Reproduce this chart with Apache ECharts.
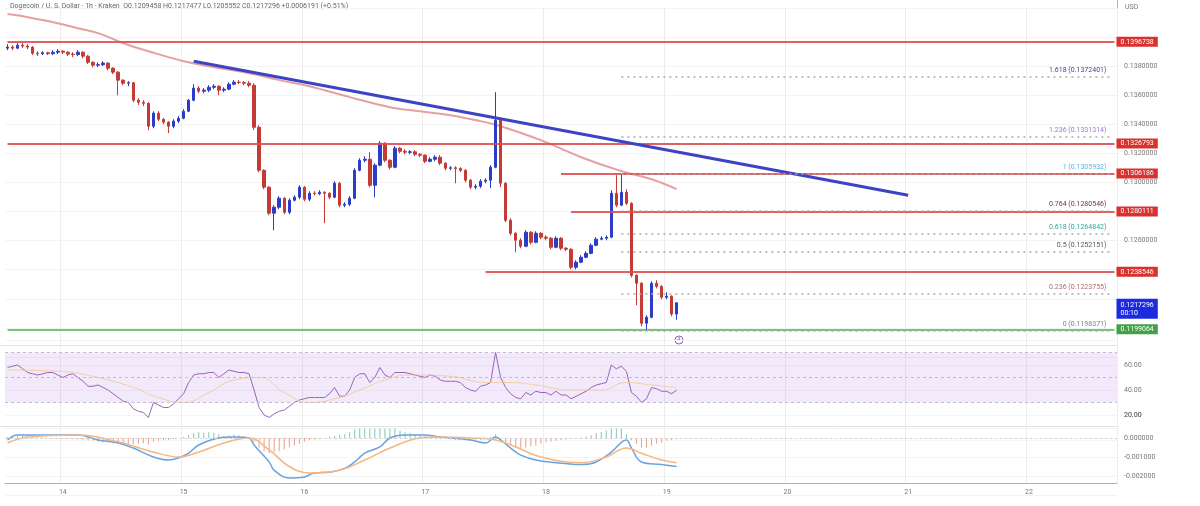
<!DOCTYPE html>
<html>
<head>
<meta charset="utf-8">
<script src="https://cdn.jsdelivr.net/npm/echarts@6/dist/echarts.min.js"></script>
<style>
html,body{margin:0;padding:0;background:#fff}
#chart{width:1200px;height:506px}
</style>
</head>
<body>
<div id="chart"></div>
<script>
// hourly candles, first one is the 13th at 13:00
var days = ['13','14','15','16','17','18','19','20','21','22'];
var firstHour = 13;
var slotCount = 221;

var firstOpen = 0.13924;
var closes = [
  0.13931,0.13924,0.13944,0.13938,0.13931,0.13889,0.13885,0.13892,0.13886,0.13896,
  0.13903,0.13896,0.13883,0.13880,0.13896,0.13869,0.13827,0.13807,0.13810,0.13821,
  0.13786,0.13759,0.13704,0.13683,0.13686,0.13566,0.13552,0.13545,0.13387,0.13477,
  0.13435,0.13415,0.13387,0.13422,0.13442,0.13490,0.13566,0.13649,0.13628,0.13635,
  0.13655,0.13662,0.13635,0.13642,0.13676,0.13690,0.13688,0.13683,0.13669,0.13380,
  0.13084,0.12968,0.12789,0.12830,0.12892,0.12795,0.12878,0.12899,0.12968,0.12885,
  0.12926,0.12923,0.12933,0.12926,0.12899,0.12995,0.12844,0.12850,0.12892,0.13084,
  0.13153,0.13160,0.12981,0.13119,0.13270,0.13153,0.13105,0.13236,0.13215,0.13208,
  0.13211,0.13194,0.13188,0.13146,0.13160,0.13174,0.13133,0.13098,0.13101,0.13096,
  0.13084,0.13016,0.12968,0.12974,0.13009,0.13016,0.13105,0.13428,0.12995,0.12740,
  0.12651,0.12603,0.12562,0.12658,0.12589,0.12651,0.12624,0.12617,0.12555,0.12617,
  0.12548,0.12541,0.12417,0.12452,0.12486,0.12513,0.12568,0.12610,0.12617,0.12624,
  0.12926,0.12844,0.12933,0.12857,0.12362,0.12307,0.12032,0.12073,0.12307,0.12286,
  0.12211,0.12218,0.12095,0.12173
];
var highs = [
  0.13951,0.13944,0.13958,0.13958,0.13951,0.13938,0.13903,0.13903,0.13899,0.13910,
  0.13917,0.13910,0.13903,0.13896,0.13910,0.13903,0.13876,0.13834,0.13827,0.13834,
  0.13827,0.13793,0.13766,0.13710,0.13697,0.13690,0.13580,0.13566,0.13552,0.13490,
  0.13490,0.13442,0.13422,0.13435,0.13456,0.13504,0.13573,0.13676,0.13662,0.13649,
  0.13669,0.13676,0.13669,0.13655,0.13690,0.13704,0.13704,0.13697,0.13697,0.13683,
  0.13394,0.13091,0.12975,0.12844,0.12906,0.12899,0.12892,0.12912,0.12981,0.12975,
  0.12940,0.12940,0.12947,0.12940,0.12933,0.13009,0.13002,0.12864,0.12906,0.13098,
  0.13167,0.13181,0.13208,0.13133,0.13284,0.13277,0.13160,0.13250,0.13243,0.13229,
  0.13222,0.13222,0.13201,0.13194,0.13174,0.13188,0.13188,0.13139,0.13112,0.13112,
  0.13105,0.13091,0.13023,0.12988,0.13023,0.13029,0.13119,0.13621,0.13435,0.13002,
  0.12754,0.12658,0.12617,0.12672,0.12665,0.12665,0.12658,0.12637,0.12624,0.12630,
  0.12624,0.12555,0.12548,0.12465,0.12500,0.12527,0.12582,0.12624,0.12630,0.12637,
  0.12947,0.13050,0.13059,0.12954,0.12864,0.12369,0.12314,0.12087,0.12321,0.12328,
  0.12293,0.12245,0.12224,0.12175
];
var lows = [
  0.13910,0.13910,0.13917,0.13924,0.13917,0.13876,0.13869,0.13876,0.13876,0.13876,
  0.13883,0.13883,0.13869,0.13862,0.13869,0.13855,0.13814,0.13793,0.13793,0.13800,
  0.13772,0.13745,0.13600,0.13669,0.13662,0.13552,0.13532,0.13525,0.13360,0.13373,
  0.13422,0.13401,0.13339,0.13373,0.13408,0.13435,0.13484,0.13559,0.13614,0.13614,
  0.13621,0.13642,0.13600,0.13621,0.13635,0.13669,0.13676,0.13669,0.13655,0.13360,
  0.13071,0.12954,0.12775,0.12672,0.12816,0.12782,0.12782,0.12871,0.12885,0.12871,
  0.12871,0.12912,0.12912,0.12720,0.12885,0.12892,0.12830,0.12830,0.12837,0.12885,
  0.13077,0.13139,0.12968,0.12899,0.13112,0.13139,0.13091,0.13098,0.13201,0.13194,
  0.13194,0.13181,0.13174,0.13133,0.13139,0.13146,0.13119,0.13084,0.13084,0.12995,
  0.13071,0.13002,0.12954,0.12954,0.12961,0.12995,0.12961,0.13098,0.12968,0.12727,
  0.12637,0.12520,0.12548,0.12555,0.12575,0.12582,0.12610,0.12603,0.12541,0.12548,
  0.12534,0.12527,0.12403,0.12403,0.12445,0.12479,0.12507,0.12562,0.12603,0.12603,
  0.12617,0.12830,0.12837,0.12844,0.12348,0.12156,0.12011,0.11984,0.12066,0.12272,
  0.12197,0.12197,0.12080,0.12056
];

// moving average: [candle index, price]
var maLine = [
  [0,0.14158],[4,0.14137],[8,0.14110],[14,0.14061],[18,0.14027],[23,0.13958],
  [28,0.13903],[35,0.13834],[40,0.13800],[48,0.13752],[54,0.13704],[60,0.13662],
  [68,0.13587],[76,0.13518],[82,0.13490],[88,0.13463],[94,0.13422],[98,0.13387],
  [106,0.13291],[114,0.13174],[122,0.13078],[128,0.13022],[133,0.12954]
];

var rsi = [
  58,59,60,57,54,53,52,53,54,54, 52,50,52,53,50,47,43,43,44,42,
  40,37,34,31,30,25,23,22,18,30, 28,26,26,29,33,37,46,52,53,53,
  54,54,50,53,56,55,54,54,53,40, 26,20,18,21,23,24,27,30,32,33,
  34,34,34,34,37,42,35,35,40,50, 53,53,46,50,58,52,50,54,54,54,
  53,52,51,50,52,51,48,47,47,47, 46,42,40,39,43,44,46,70,50,42,
  37,34,33,38,36,39,38,38,36,39, 36,36,33,35,37,39,42,44,45,46,
  60,57,59,55,38,35,30,33,42,41, 39,39,37,40
];
var rsiMa = [
  [0,56],[10,55],[18,50],[25,42],[30,34],[35,30],[40,38],[45,48],[50,50],[55,38],
  [60,30],[65,33],[70,40],[75,48],[80,52],[88,51],[95,46],[100,46],[105,44],[112,40],
  [118,40],[123,46],[128,44],[133,42]
];

var macdLine = [
  [0,-0.0001],[2,0.00016],[6,0.00016],[11,0.00016],[14,0.00016],[18,-0.0001],[22,-0.00026],
  [25,-0.00053],[29,-0.001],[32,-0.00116],[34,-0.00105],[36,-0.0008],[38,-0.00037],[42,0],
  [45,0.00005],[48,0],[49,-0.00037],[52,-0.00126],[53,-0.0017],[56,-0.0021],[59,-0.00205],
  [61,-0.00184],[64,-0.0018],[67,-0.0016],[69,-0.00126],[71,-0.0008],[74,-0.00047],[76,0],
  [79,0.00016],[83,0.00016],[86,0.00005],[92,-0.0001],[95,-0.00026],[97,0.00005],[98,-0.0001],
  [100,-0.00053],[102,-0.0009],[105,-0.00116],[109,-0.0013],[114,-0.0014],[117,-0.00126],
  [120,-0.00074],[123,-0.0001],[124,-0.00053],[126,-0.00126],[130,-0.0014],[133,-0.0015]
];
var signalLine = [
  [0,-0.00026],[4,0.00005],[14,0.00016],[22,-0.0002],[29,-0.00074],[34,-0.001],[38,-0.00074],
  [43,-0.00026],[48,0],[52,-0.00063],[56,-0.0015],[60,-0.00184],[66,-0.0017],[71,-0.00116],
  [76,-0.00053],[82,0],[86,0.00005],[92,0],[97,-0.0001],[101,-0.00047],[106,-0.001],
  [114,-0.0013],[119,-0.001],[123,-0.00053],[126,-0.0008],[130,-0.00116],[133,-0.0013]
];
var macdHist = [
  0.00005,0.00008,0.0001,0.0001,0.00008,0.00005,0.00003,0.00002,0,-0.00002,-0.00003,-0.00004,-0.00005,-0.00006,-0.00008,
  -0.0001,-0.00012,-0.00015,-0.0002,-0.00022,-0.00025,-0.0003,-0.00032,-0.0003,-0.00035,-0.00032,-0.0003,-0.00028,-0.00035,
  -0.0002,-0.00015,-0.00012,-0.0001,-0.00005,0,0.00005,
  0.00015,0.00025,0.0003,0.00028,0.0003,0.00026,0.0002,
  0.00012,0.00015,0.00018,0.00015,0.0001,0.00005,
  -0.0002,-0.0005,-0.0007,-0.0008,-0.00075,-0.0007,-0.0006,-0.0005,-0.0004,
  -0.0003,-0.0002,-0.00012,-0.00008,-0.00005,0,0.00005,0.0001,
  0.00015,0.0002,0.0003,0.00045,0.0006,0.00065,0.0005,0.0005,0.0007,0.0006,0.0005,0.0005,0.0004,0.0003,0.00025,
  0.0002,0.00015,0.0001,0.00005,0,-0.00003,-0.00005,-0.00008,-0.0001,-0.0001,-0.00012,-0.00015,-0.00012,-0.0001,-0.00005,
  0.00005,0.0002,-0.00005,
  -0.00025,-0.0004,-0.0005,-0.00055,-0.0005,-0.00045,-0.0004,-0.0003,
  -0.00022,-0.00018,-0.00015,-0.0001,-0.00008,-0.00005,-0.00002,0.00002,0.00008,0.00015,
  0.00025,0.00032,0.0004,0.0006,0.00055,0.0005,0.0002,
  -0.0001,-0.0003,-0.0005,-0.0005,-0.0004,-0.0003,-0.00025,-0.00015,-0.0001,-0.00005
];

// drawn levels
var levelPrices = [0.1396738, 0.1326793, 0.1306186, 0.1280111, 0.1238546];
var levelStarts = [0, 0, 110, 112, 95];
var supportPrice = 0.1199064;
var lastPrice = 0.1217296;
var countdown = '00:10';
var trendFrom = [37, 0.13834];
var trendTo = [179, 0.12912];
var fibRatios = ['1.618','1.236','1','0.764','0.618','0.5','0.236','0'];
var fibPrices = [0.1372401,0.1331314,0.1305932,0.1280546,0.1264842,0.1252151,0.1223755,0.1198371];
var rsiLowTick = 20;
var headerText = 'Dogecoin / U. S. Dollar · 1h · Kraken  O0.1209458 H0.1217477 L0.1205552 C0.1217296 +0.0006191 (+0.51%)';

var categories = [];
for (var i = 0; i < slotCount; i++) {
  var h = firstHour + i;
  var hh = h % 24;
  var d = days[Math.floor(h / 24)];
  categories.push(hh === 0 ? d : d + ' ' + (hh < 10 ? '0' : '') + hh + ':00');
}
var candles = closes.map(function (c, i) {
  var o = i === 0 ? firstOpen : closes[i - 1];
  return [o, c, lows[i], highs[i]];
});
// price labels that sit under a level box are not shown
var boxedPrices = levelPrices.concat([supportPrice, lastPrice]);

var upColor = '#2b3cc8', downColor = '#c53a35', levelColor = '#dd5050';
var fibColors = ['#3c4a8c','#9a7ad0','#5bb6dc','#7a3434','#2ba89a','#555555','#b46a6a','#808080'];
var font = 'Roboto, sans-serif';
var fibStart = 122, fibEnd = 219;

function dayStart(index) { return (firstHour + index) % 24 === 0; }

var levelLines = levelPrices.map(function (p, i) {
  return [{
    coord: [levelStarts[i], p],
    lineStyle: {color: levelColor, width: 2, type: 'solid', opacity: 0.9},
    label: {show: true, position: 'end', distance: 2, formatter: p.toFixed(7), color: '#fff', opacity: 1,
      backgroundColor: '#d7322e', padding: [2, 4, 1, 4], fontSize: 7, fontFamily: font}
  }, {coord: [slotCount - 1, p]}];
});
levelLines.push([{
  coord: [0, supportPrice],
  lineStyle: {color: '#4caf50', width: 1.5, type: 'solid'},
  label: {show: true, position: 'end', distance: 2, formatter: supportPrice.toFixed(7), color: '#fff',
    backgroundColor: '#43a047', padding: [2, 4, 1, 4], fontSize: 7, fontFamily: font}
}, {coord: [slotCount - 1, supportPrice]}]);
levelLines.push([{
  coord: [closes.length - 1, lastPrice],
  lineStyle: {color: 'rgba(0,0,0,0)', width: 0},
  label: {show: true, position: 'end', distance: 2, formatter: lastPrice.toFixed(7) + '\n' + countdown, color: '#fff', opacity: 1,
    backgroundColor: '#1d2be0', padding: [2, 4, 2, 4], fontSize: 7, lineHeight: 8, fontFamily: font, offset: [0, 6], align: 'left'}
}, {coord: [slotCount - 1, lastPrice]}]);
levelLines.push([{
  coord: trendFrom,
  lineStyle: {color: '#3c44c4', width: 3, type: 'solid'},
  label: {show: false}
}, {coord: trendTo}]);

var fibLines = fibRatios.map(function (r, i) {
  return [{
    coord: [fibStart, fibPrices[i]],
    lineStyle: {color: '#a9a9a9', width: 1.5, type: [2, 4]},
    label: {show: true, position: 'insideEndTop', distance: 3, formatter: r + ' (' + fibPrices[i].toFixed(7) + ')',
      color: fibColors[i], fontSize: 7, fontFamily: font}
  }, {coord: [fibEnd, fibPrices[i]]}];
});

var graphics = [
  {type: 'text', left: 10, top: 3, style: {text: headerText, fill: '#666', fontSize: 7, fontFamily: font}},
  {type: 'text', left: 1125, top: 4, style: {text: 'USD', fill: '#777', fontSize: 7, fontFamily: font}},
  {type: 'line', shape: {x1: 1117.5, y1: 0, x2: 1117.5, y2: 483}, style: {stroke: '#b5b5b5', lineWidth: 1}},
  {type: 'line', shape: {x1: 0, y1: 345.5, x2: 1117, y2: 345.5}, style: {stroke: '#e2e2e2', lineWidth: 1}},
  {type: 'line', shape: {x1: 0, y1: 426.5, x2: 1117, y2: 426.5}, style: {stroke: '#e2e2e2', lineWidth: 1}},
  {type: 'circle', shape: {cx: 679, cy: 340, r: 4}, style: {stroke: '#9161b8', fill: '#fff', lineWidth: 1}},
  {type: 'text', x: 677, y: 336.5, style: {text: '4', fill: '#9161b8', fontSize: 6, fontFamily: font}}
];

var option = {
  animation: false,
  backgroundColor: '#fff',
  textStyle: {fontFamily: font},
  grid: [
    {left: 5, right: 83, top: 8, height: 349},
    {left: 5, right: 83, top: 340, height: 100},
    {left: 5, right: 83, top: 428.5, height: 66.5},
    {left: 5, right: 83, top: 419, height: 64}
  ],
  xAxis: [0, 1, 2, 3].map(function (g) {
    return {
      type: 'category', gridIndex: g, data: categories, boundaryGap: true,
      axisLine: {show: g === 3, lineStyle: {color: '#b0b0b0'}},
      axisTick: {show: false},
      axisLabel: {show: g === 3, interval: dayStart, color: '#777', fontSize: 7, margin: 6},
      splitLine: {show: g !== 2, interval: dayStart, lineStyle: {color: '#ededed', width: 1}}
    };
  }),
  yAxis: [
    {gridIndex: 0, position: 'right', min: 0.118, max: 0.142, interval: 0.002,
      axisLine: {show: false}, axisTick: {show: false},
      axisLabel: {color: '#777', fontSize: 7, margin: 7, showMinLabel: false, showMaxLabel: false,
        formatter: function (v) {
          for (var j = 0; j < boxedPrices.length; j++) {
            if (Math.abs(v - boxedPrices[j]) < 0.0005) return '';
          }
          return v.toFixed(7);
        }},
      splitLine: {lineStyle: {color: '#f3f3f3'}}},
    {gridIndex: 1, position: 'right', min: 0, max: 80, interval: 20,
      axisLine: {show: false}, axisTick: {show: false},
      axisLabel: {color: '#777', fontSize: 7, margin: 7, showMinLabel: false, showMaxLabel: false,
        formatter: function (v) { return v.toFixed(2); }},
      splitLine: {lineStyle: {color: '#f5f5f5'}}},
    {gridIndex: 2, position: 'right', min: -0.003, max: 0.0005, interval: 0.001,
      axisLine: {show: false}, axisTick: {show: false},
      axisLabel: {color: '#777', fontSize: 7, margin: 7, showMinLabel: false, showMaxLabel: false,
        formatter: function (v) { return Math.abs(v) < 1e-9 ? '0.000000' : v.toFixed(6); }},
      splitLine: {lineStyle: {color: '#f3f3f3'}}},
    {gridIndex: 3, show: false, min: 0, max: 1}
  ],
  series: [
    {
      name: 'DOGEUSD', type: 'candlestick', xAxisIndex: 0, yAxisIndex: 0,
      data: candles, barWidth: 3,
      itemStyle: {color: upColor, color0: downColor, borderColor: upColor, borderColor0: downColor, borderWidth: 1},
      markLine: {symbol: ['none', 'none'], silent: true, animation: false, data: levelLines}
    },
    {
      name: 'MA', type: 'line', xAxisIndex: 0, yAxisIndex: 0, data: maLine,
      smooth: 0.4, showSymbol: false, lineStyle: {color: '#e5a0a0', width: 2}, z: 1,
      markLine: {symbol: ['none', 'none'], silent: true, animation: false, data: fibLines}
    },
    {
      name: 'RSI', type: 'line', xAxisIndex: 1, yAxisIndex: 1, data: rsi,
      showSymbol: false, lineStyle: {color: '#9b63b8', width: 1},
      markArea: {silent: true, itemStyle: {color: 'rgba(160,100,225,0.14)'}, data: [[{yAxis: 30}, {yAxis: 70}]]},
      markLine: {symbol: ['none', 'none'], silent: true, label: {show: false},
        lineStyle: {color: '#c9b7d6', type: [3, 3], width: 1},
        data: [{yAxis: 70}, {yAxis: 50}, {yAxis: 30}]}
    },
    {
      name: 'RSI MA', type: 'line', xAxisIndex: 1, yAxisIndex: 1, data: rsiMa,
      smooth: 0.5, showSymbol: false, lineStyle: {color: '#f2c98e', width: 1, opacity: 0.8}
    },
    {
      name: 'Histogram', type: 'bar', xAxisIndex: 2, yAxisIndex: 2, data: macdHist, barWidth: 1,
      itemStyle: {color: function (p) { return p.value >= 0 ? '#7cc7bd' : '#ef9a8a'; }},
      markLine: {symbol: ['none', 'none'], silent: true, label: {show: false},
        lineStyle: {color: '#d0d0d0', type: [2, 3], width: 1}, data: [{yAxis: 0}]}
    },
    {
      name: 'MACD', type: 'line', xAxisIndex: 2, yAxisIndex: 2, data: macdLine,
      smooth: 0.4, showSymbol: false, lineStyle: {color: '#6aa3e0', width: 1.5}
    },
    {
      name: 'Signal', type: 'line', xAxisIndex: 2, yAxisIndex: 2, data: signalLine,
      smooth: 0.4, showSymbol: false, lineStyle: {color: '#f4b682', width: 1.5}
    }
  ],
  graphic: graphics
};

var myChart = echarts.init(document.getElementById('chart'));
myChart.setOption(option);

// the lowest RSI tick label goes missing in this layout, so place it from the axis scale
var y20 = myChart.convertToPixel({yAxisIndex: 1}, rsiLowTick);
myChart.setOption({graphic: graphics.concat([
  {type: 'text', x: 1124, y: y20, style: {text: rsiLowTick.toFixed(2), fill: '#777', fontSize: 7, fontFamily: font, verticalAlign: 'middle'}}
])});
</script>
</body>
</html>
